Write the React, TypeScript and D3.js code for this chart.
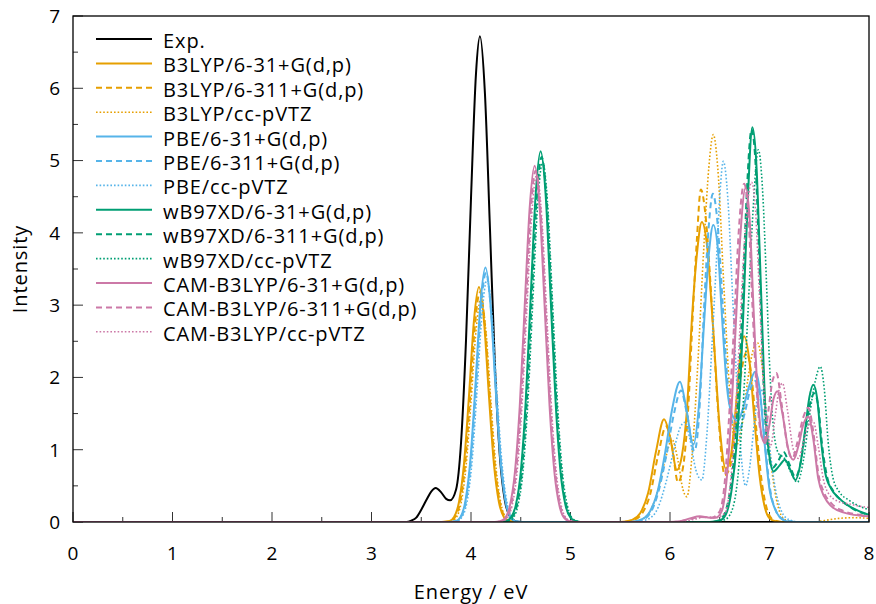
import React from "react";
import * as d3 from "d3";

const xTicks = [0, 1, 2, 3, 4, 5, 6, 7, 8];
const yTicks = [0, 1, 2, 3, 4, 5, 6, 7];
const xMinor = [0.5, 1.5, 2.5, 3.5, 4.5, 5.5, 6.5, 7.5];
const yMinor = [0.5, 1.5, 2.5, 3.5, 4.5, 5.5, 6.5];

const expData = [[0,0],[3.35,0],[3.4,0.02],[3.45,0.06],[3.5,0.17],[3.55,0.3],[3.6,0.42],[3.645,0.47],[3.7,0.41],[3.75,0.32],[3.79,0.3],[3.85,0.45],[3.9,1.1],[3.95,2.52],[4.0,4.48],[4.05,6.2],[4.09,6.72],[4.14,5.93],[4.19,4.08],[4.24,2.18],[4.29,0.91],[4.34,0.3],[4.39,0.08],[4.44,0.015],[4.5,0],[8,0]];

const b3lyp631 = [[0,0],[3.7,0],[3.78,0.01],[3.83,0.07],[3.88,0.28],[3.93,0.81],[3.98,1.75],[4.03,2.79],[4.08,3.25],[4.13,2.79],[4.18,1.75],[4.23,0.81],[4.28,0.28],[4.33,0.07],[4.38,0.01],[4.46,0],[5.5,0],[5.62,0.03],[5.7,0.12],[5.78,0.4],[5.86,0.98],[5.94,1.42],[6.0,1.18],[6.07,0.72],[6.12,0.92],[6.17,1.55],[6.22,2.8],[6.27,3.7],[6.32,4.15],[6.37,3.85],[6.43,2.75],[6.5,1.3],[6.56,0.74],[6.61,0.9],[6.65,1.4],[6.7,2.2],[6.745,2.57],[6.8,2.2],[6.85,1.39],[6.9,0.64],[6.95,0.22],[7.0,0.05],[7.06,0.01],[7.12,0],[8,0]];

const b3lyp6311 = [[0,0],[3.71,0],[3.79,0.01],[3.84,0.07],[3.89,0.27],[3.94,0.79],[3.99,1.71],[4.04,2.73],[4.09,3.18],[4.14,2.73],[4.19,1.71],[4.24,0.79],[4.29,0.27],[4.34,0.07],[4.39,0.01],[4.47,0],[5.5,0],[5.64,0.03],[5.72,0.12],[5.8,0.38],[5.88,0.92],[5.96,1.32],[6.02,1.05],[6.08,0.55],[6.13,0.75],[6.18,1.5],[6.23,2.9],[6.27,3.9],[6.31,4.6],[6.36,4.2],[6.42,3.0],[6.48,1.6],[6.55,0.65],[6.6,0.75],[6.66,1.35],[6.72,2.1],[6.77,2.35],[6.82,2.0],[6.87,1.25],[6.92,0.58],[6.97,0.2],[7.02,0.05],[7.08,0.01],[7.14,0],[8,0]];

const b3lypcc = [[0,0],[3.72,0],[3.8,0.01],[3.85,0.06],[3.9,0.26],[3.95,0.77],[4.0,1.66],[4.05,2.64],[4.1,3.08],[4.15,2.64],[4.2,1.66],[4.25,0.77],[4.3,0.26],[4.35,0.06],[4.4,0.01],[4.48,0],[5.55,0],[5.7,0.03],[5.8,0.15],[5.88,0.45],[5.95,0.85],[6.02,1.14],[6.08,0.85],[6.13,0.45],[6.17,0.35],[6.22,0.9],[6.28,2.2],[6.34,3.8],[6.39,4.9],[6.435,5.36],[6.48,4.9],[6.54,3.3],[6.6,1.8],[6.66,1.05],[6.72,1.3],[6.78,1.95],[6.84,2.4],[6.88,2.48],[6.93,2.1],[6.98,1.3],[7.04,0.55],[7.1,0.15],[7.16,0.03],[7.25,0],[7.45,0],[7.55,0.02],[7.7,0.05],[7.85,0.06],[8,0.05]];

const pbe631 = [[0,0],[3.77,0],[3.845,0.01],[3.895,0.07],[3.945,0.3],[3.995,0.88],[4.045,1.9],[4.095,3.02],[4.145,3.52],[4.195,3.02],[4.245,1.9],[4.295,0.88],[4.345,0.3],[4.395,0.07],[4.445,0.01],[4.52,0],[5.6,0],[5.72,0.04],[5.8,0.15],[5.88,0.45],[5.95,0.95],[6.02,1.55],[6.1,1.94],[6.16,1.6],[6.235,1.07],[6.29,1.6],[6.34,2.7],[6.39,3.7],[6.435,4.11],[6.48,3.8],[6.52,2.9],[6.57,1.9],[6.62,1.5],[6.68,1.4],[6.74,1.6],[6.8,1.9],[6.855,2.08],[6.9,1.85],[6.95,1.1],[7.0,0.45],[7.05,0.2],[7.1,0.07],[7.17,0.01],[7.25,0],[8,0]];

const pbe6311 = [[0,0],[3.775,0],[3.85,0.01],[3.9,0.07],[3.95,0.29],[4.0,0.86],[4.05,1.86],[4.1,2.96],[4.15,3.45],[4.2,2.96],[4.25,1.86],[4.3,0.86],[4.35,0.29],[4.4,0.07],[4.45,0.01],[4.53,0],[5.6,0],[5.72,0.03],[5.8,0.12],[5.88,0.4],[5.96,0.9],[6.04,1.5],[6.11,1.82],[6.17,1.5],[6.245,0.98],[6.3,1.65],[6.34,2.9],[6.39,4.1],[6.43,4.54],[6.48,4.1],[6.53,3.0],[6.58,1.9],[6.63,1.35],[6.69,1.25],[6.75,1.5],[6.81,1.85],[6.86,1.95],[6.91,1.7],[6.96,1.0],[7.01,0.42],[7.06,0.17],[7.12,0.05],[7.2,0.01],[7.28,0],[8,0]];

const pbecc = [[0,0],[3.785,0],[3.86,0.01],[3.91,0.07],[3.96,0.28],[4.01,0.83],[4.06,1.81],[4.11,2.87],[4.16,3.35],[4.21,2.87],[4.26,1.81],[4.31,0.83],[4.36,0.28],[4.41,0.07],[4.46,0.01],[4.54,0],[5.65,0],[5.78,0.04],[5.88,0.2],[5.96,0.55],[6.04,1.0],[6.1,1.3],[6.15,1.38],[6.2,1.15],[6.26,0.72],[6.32,0.58],[6.37,1.2],[6.42,2.4],[6.47,3.7],[6.5,4.5],[6.536,4.99],[6.58,4.5],[6.63,3.1],[6.68,1.7],[6.72,0.85],[6.76,0.5],[6.8,0.75],[6.85,1.4],[6.9,1.85],[6.95,1.7],[7.0,1.05],[7.06,0.45],[7.12,0.15],[7.2,0.03],[7.3,0],[8,0]];

const wb97631 = [[0,0],[4.3,0],[4.35,0.01],[4.4,0.06],[4.45,0.23],[4.5,0.69],[4.55,1.67],[4.6,3.11],[4.65,4.53],[4.7,5.13],[4.75,4.53],[4.8,3.11],[4.85,1.67],[4.9,0.69],[4.95,0.23],[5.0,0.06],[5.05,0.01],[5.1,0],[6.4,0],[6.5,0.02],[6.56,0.1],[6.62,0.45],[6.67,1.09],[6.71,2.0],[6.74,3.0],[6.78,4.4],[6.828,5.46],[6.87,4.9],[6.9,3.8],[6.93,2.6],[6.96,1.5],[7.0,0.9],[7.04,0.7],[7.1,0.78],[7.155,0.86],[7.21,0.72],[7.26,0.58],[7.31,0.8],[7.36,1.3],[7.4,1.72],[7.44,1.9],[7.48,1.7],[7.52,1.1],[7.56,0.68],[7.62,0.46],[7.69,0.34],[7.8,0.22],[7.9,0.15],[8,0.1]];

const wb976311 = [[0,0],[4.31,0],[4.36,0.01],[4.41,0.06],[4.46,0.22],[4.51,0.68],[4.56,1.64],[4.61,3.07],[4.66,4.46],[4.71,5.05],[4.76,4.46],[4.81,3.07],[4.86,1.64],[4.91,0.68],[4.96,0.22],[5.01,0.06],[5.06,0.01],[5.11,0],[6.4,0],[6.49,0.02],[6.55,0.12],[6.61,0.5],[6.66,1.2],[6.7,2.2],[6.735,3.3],[6.77,4.5],[6.82,5.43],[6.86,4.95],[6.89,3.9],[6.92,2.7],[6.95,1.6],[6.99,0.95],[7.03,0.75],[7.09,0.85],[7.14,0.97],[7.2,0.8],[7.26,0.62],[7.31,0.8],[7.36,1.25],[7.41,1.65],[7.45,1.78],[7.49,1.6],[7.53,1.05],[7.58,0.62],[7.64,0.43],[7.72,0.3],[7.82,0.2],[7.92,0.13],[8,0.1]];

const wb97cc = [[0,0],[4.32,0],[4.37,0.01],[4.42,0.05],[4.47,0.22],[4.52,0.67],[4.57,1.62],[4.62,3.02],[4.67,4.4],[4.72,4.98],[4.77,4.4],[4.82,3.02],[4.87,1.62],[4.92,0.67],[4.97,0.22],[5.02,0.05],[5.07,0.01],[5.12,0],[6.45,0],[6.55,0.03],[6.62,0.15],[6.68,0.6],[6.73,1.5],[6.78,2.8],[6.83,4.2],[6.888,5.15],[6.93,4.6],[6.97,3.3],[7.0,2.2],[7.04,1.3],[7.09,0.95],[7.15,0.88],[7.21,0.7],[7.28,0.55],[7.34,0.85],[7.4,1.45],[7.46,1.95],[7.51,2.15],[7.55,1.85],[7.59,1.1],[7.64,0.6],[7.7,0.42],[7.8,0.3],[7.9,0.22],[8,0.17]];

const cam631 = [[0,0],[4.24,0],[4.29,0.01],[4.34,0.05],[4.39,0.22],[4.44,0.67],[4.49,1.6],[4.54,2.99],[4.59,4.35],[4.64,4.93],[4.69,4.35],[4.74,2.99],[4.79,1.6],[4.84,0.67],[4.89,0.22],[4.94,0.05],[4.99,0.01],[5.04,0],[6.0,0],[6.1,0.01],[6.2,0.05],[6.3,0.08],[6.4,0.06],[6.46,0.06],[6.52,0.15],[6.57,0.6],[6.62,1.6],[6.66,2.7],[6.7,3.8],[6.76,4.62],[6.8,4.2],[6.84,2.94],[6.88,1.8],[6.92,1.2],[6.955,1.09],[7.0,1.35],[7.04,1.7],[7.08,1.81],[7.13,1.5],[7.19,1.0],[7.24,0.86],[7.29,1.05],[7.34,1.35],[7.39,1.46],[7.44,1.15],[7.49,0.6],[7.55,0.35],[7.62,0.22],[7.75,0.13],[7.9,0.09],[8,0.08]];

const cam6311 = [[0,0],[4.25,0],[4.3,0.01],[4.35,0.05],[4.4,0.21],[4.45,0.66],[4.5,1.58],[4.55,2.95],[4.6,4.29],[4.65,4.86],[4.7,4.29],[4.75,2.95],[4.8,1.58],[4.85,0.66],[4.9,0.21],[4.95,0.05],[5.0,0.01],[5.05,0],[6.0,0],[6.1,0.01],[6.2,0.04],[6.3,0.07],[6.42,0.06],[6.5,0.15],[6.55,0.55],[6.6,1.6],[6.65,2.9],[6.69,4.0],[6.745,4.68],[6.79,4.2],[6.83,2.94],[6.87,1.85],[6.91,1.25],[6.945,1.12],[6.99,1.55],[7.03,1.95],[7.07,2.06],[7.12,1.65],[7.18,1.05],[7.23,0.88],[7.28,1.1],[7.34,1.45],[7.39,1.58],[7.44,1.25],[7.49,0.68],[7.55,0.4],[7.62,0.26],[7.75,0.15],[7.9,0.1],[8,0.08]];

const camcc = [[0,0],[4.26,0],[4.31,0.01],[4.36,0.05],[4.41,0.21],[4.46,0.65],[4.51,1.56],[4.56,2.91],[4.61,4.24],[4.66,4.8],[4.71,4.24],[4.76,2.91],[4.81,1.56],[4.86,0.65],[4.91,0.21],[4.96,0.05],[5.01,0.01],[5.06,0],[6.05,0],[6.15,0.01],[6.25,0.04],[6.35,0.07],[6.45,0.06],[6.55,0.12],[6.6,0.45],[6.65,1.3],[6.7,2.6],[6.75,3.9],[6.82,4.7],[6.86,4.3],[6.9,3.1],[6.94,1.9],[6.98,1.2],[7.01,1.05],[7.06,1.5],[7.1,1.85],[7.13,1.92],[7.18,1.55],[7.24,1.0],[7.29,0.88],[7.34,1.1],[7.39,1.33],[7.44,1.39],[7.49,1.05],[7.54,0.6],[7.6,0.38],[7.7,0.28],[7.8,0.25],[7.9,0.22],[8,0.2]];

const seriesNames = [
  "Exp.",
  "B3LYP/6-31+G(d,p)", "B3LYP/6-311+G(d,p)", "B3LYP/cc-pVTZ",
  "PBE/6-31+G(d,p)", "PBE/6-311+G(d,p)", "PBE/cc-pVTZ",
  "wB97XD/6-31+G(d,p)", "wB97XD/6-311+G(d,p)", "wB97XD/cc-pVTZ",
  "CAM-B3LYP/6-31+G(d,p)", "CAM-B3LYP/6-311+G(d,p)", "CAM-B3LYP/cc-pVTZ",
];
const seriesData = [expData, b3lyp631, b3lyp6311, b3lypcc, pbe631, pbe6311, pbecc, wb97631, wb976311, wb97cc, cam631, cam6311, camcc];
const seriesColors = ["#000000", "#E69F00", "#E69F00", "#E69F00", "#56B4E9", "#56B4E9", "#56B4E9", "#009E73", "#009E73", "#009E73", "#CC79A7", "#CC79A7", "#CC79A7"];
const seriesStyle = ["solid", "solid", "dashed", "dotted", "solid", "dashed", "dotted", "solid", "dashed", "dotted", "solid", "dashed", "dotted"];

const FONT = "'Open Sans', 'DejaVu Sans', sans-serif";

export default function App() {
  const x = d3.scaleLinear().domain([0, 8]).range([73, 869]);
  const y = d3.scaleLinear().domain([0, 7]).range([522, 16]);
  const line = d3
    .line<number[]>()
    .x((d) => x(d[0]))
    .y((d) => y(d[1]))
    .curve(d3.curveMonotoneX);

  const dash = (s: string) => (s === "dashed" ? "6,4" : s === "dotted" ? "1.6,2" : undefined);
  const width = (s: string) => (s === "dotted" ? 1.6 : 2);

  return (
    <svg width={876} height={604} style={{ position: "absolute", left: 0, top: 0, background: "#fff" }} fontFamily={FONT}>
      <defs>
        <clipPath id="plotclip">
          <rect x={x(0)} y={y(7)} width={x(8) - x(0)} height={y(0) - y(7)} />
        </clipPath>
      </defs>
      {xTicks.map((t) => (
        <line key={"xt" + t} x1={x(t)} x2={x(t)} y1={y(0)} y2={y(0) - 10} stroke="#333" strokeWidth={1} />
      ))}
      {xMinor.map((t) => (
        <line key={"xm" + t} x1={x(t)} x2={x(t)} y1={y(0)} y2={y(0) - 5} stroke="#333" strokeWidth={1} />
      ))}
      {yTicks.map((t) => (
        <line key={"yt" + t} x1={x(0)} x2={x(0) + 10} y1={y(t)} y2={y(t)} stroke="#333" strokeWidth={1} />
      ))}
      {yMinor.map((t) => (
        <line key={"ym" + t} x1={x(0)} x2={x(0) + 5} y1={y(t)} y2={y(t)} stroke="#333" strokeWidth={1} />
      ))}
      <g clipPath="url(#plotclip)">
        {seriesData.map((d, i) => (
          <path
            key={"s" + i}
            d={line(d as number[][]) || ""}
            fill="none"
            stroke={seriesColors[i]}
            strokeWidth={width(seriesStyle[i])}
            strokeDasharray={dash(seriesStyle[i])}
            strokeLinejoin="round"
          />
        ))}
      </g>
      <rect x={x(0)} y={y(7)} width={x(8) - x(0)} height={y(0) - y(7)} fill="none" stroke="#000" strokeWidth={1.3} />
      {xTicks.map((t) => (
        <text key={"xl" + t} x={x(t)} y={560} textAnchor="middle" fontSize={19} fill="#000">
          {t}
        </text>
      ))}
      {yTicks.map((t) => (
        <text key={"yl" + t} x={60} y={y(t) + 6.8} textAnchor="end" fontSize={19} fill="#000">
          {t}
        </text>
      ))}
      <text x={(x(0) + x(8)) / 2} y={599} textAnchor="middle" fontSize={20} letterSpacing={0.9} fill="#000">
        Energy / eV
      </text>
      <text transform={`translate(27,${(y(0) + y(7)) / 2}) rotate(-90)`} textAnchor="middle" fontSize={20} letterSpacing={0.9} fill="#000">
        Intensity
      </text>
      {seriesNames.map((n, i) => {
        const ly = 39 + i * 24.4;
        return (
          <g key={"lg" + i}>
            <line
              x1={96}
              x2={152}
              y1={ly}
              y2={ly}
              stroke={seriesColors[i]}
              strokeWidth={width(seriesStyle[i])}
              strokeDasharray={dash(seriesStyle[i])}
            />
            <text x={163} y={ly + 9} fontSize={20} letterSpacing={0.9} fill="#000">
              {n}
            </text>
          </g>
        );
      })}
    </svg>
  );
}
